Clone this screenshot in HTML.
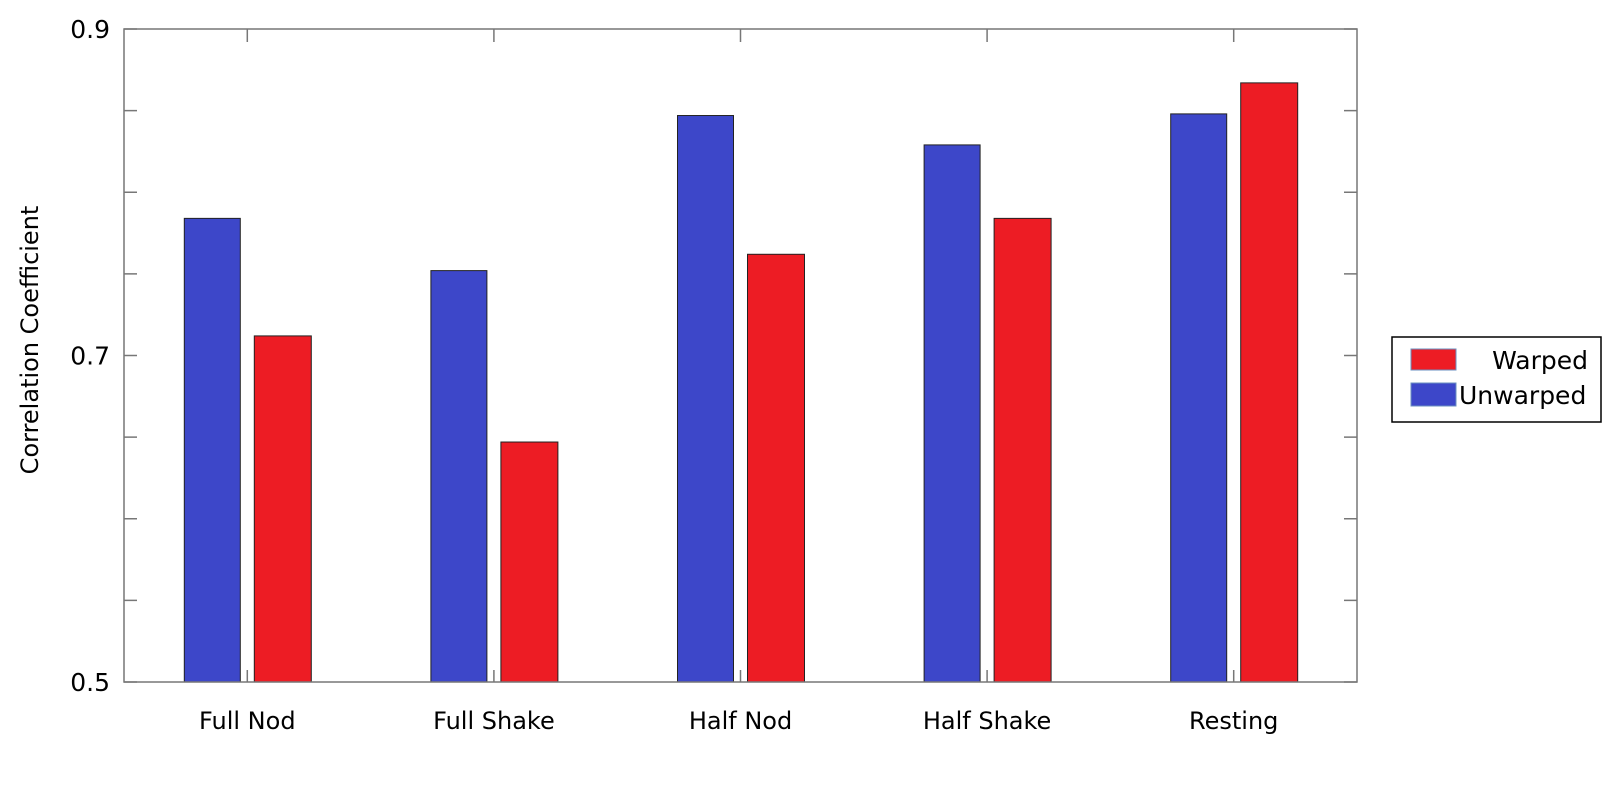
<!DOCTYPE html>
<html><head><meta charset="utf-8"><style>
body{margin:0;background:#fff;}
svg{display:block;font-family:"DejaVu Sans","Liberation Sans",sans-serif;}
</style></head><body>
<svg id="chart" width="1618" height="789"></svg>
<script>
const categories=["Full Nod","Full Shake","Half Nod","Half Shake","Resting"];
const unwarped=[0.784,0.752,0.847,0.829,0.848];
const warped=[0.712,0.647,0.762,0.784,0.867];
const yTickLabels=[0.5,0.7,0.9];
const yMinorTicks=[0.55,0.6,0.65,0.75,0.8,0.85];
const NS="http://www.w3.org/2000/svg";
const svg=document.getElementById('chart');
const L=124,R=1357,T=29,B=682,yMin=0.5,yMax=0.9;
const gw=(R-L)/categories.length;
function y(v){return B-(v-yMin)/(yMax-yMin)*(B-T);}
function xc(i){return L+gw*(i+0.5);}
function mk(tag,attrs,text){const e=document.createElementNS(NS,tag);for(const k in attrs)e.setAttribute(k,attrs[k]);if(text!==undefined)e.textContent=text;svg.appendChild(e);return e;}
categories.forEach((c,i)=>{
 const cx=xc(i);
 const b=mk('rect',{x:cx-63,y:y(unwarped[i]),width:56,height:B-y(unwarped[i]),fill:'#3d47c9',stroke:'#222','stroke-width':1});
 
 
 const r=mk('rect',{x:cx+7,y:y(warped[i]),width:57,height:B-y(warped[i]),fill:'#ed1c24',stroke:'#222','stroke-width':1});
 
 
 const t=mk('text',{x:cx,y:729,'text-anchor':'middle','font-size':24,fill:'#000'},c);
 
 
 mk('line',{x1:cx,x2:cx,y1:T,y2:T+13,stroke:'#777','stroke-width':1.5});
 mk('line',{x1:cx,x2:cx,y1:B,y2:B-12,stroke:'#777','stroke-width':1.5});
});
const frame=mk('rect',{x:L,y:T,width:R-L,height:B-T,fill:'none',stroke:'#777','stroke-width':1.5});


yMinorTicks.concat(yTickLabels).forEach(v=>{
 mk('line',{x1:L,x2:L+13,y1:y(v),y2:y(v),stroke:'#777','stroke-width':1.5});
 mk('line',{x1:R,x2:R-13,y1:y(v),y2:y(v),stroke:'#777','stroke-width':1.5});
});
yTickLabels.forEach(v=>{
 const t=mk('text',{x:110,y:y(v)+9,'text-anchor':'end','font-size':25,fill:'#000'},v.toFixed(1));
 
 
});
const yt=mk('text',{x:0,y:0,transform:'translate(38,340) rotate(-90)','text-anchor':'middle','font-size':24,fill:'#000'},'Correlation Coefficient');


const lg=mk('rect',{x:1392,y:337,width:209,height:85,fill:'#fff',stroke:'#000','stroke-width':1.5});


mk('rect',{x:1411,y:349,width:45,height:21,fill:'#ed1c24',stroke:'#6a8fc0'});
mk('rect',{x:1411,y:383,width:45,height:23,fill:'#3d47c9',stroke:'#6a8fc0'});
const l1=mk('text',{x:1588,y:369,'text-anchor':'end','font-size':25,fill:'#000'},'Warped');


const l2=mk('text',{x:1459,y:404,'font-size':25,fill:'#000'},'Unwarped');


</script>
</body></html>
